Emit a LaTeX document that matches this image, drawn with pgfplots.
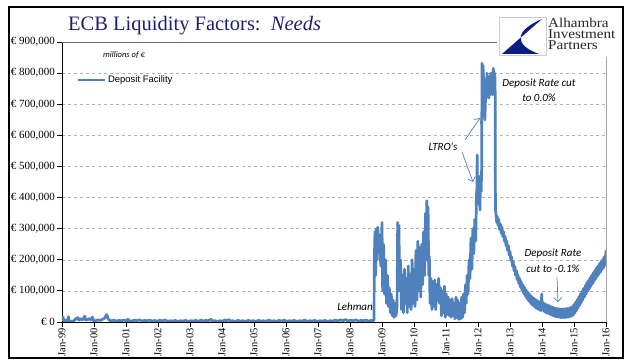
\documentclass[border=0pt]{standalone}
\usepackage{pgfplots}
\pgfplotsset{compat=1.18}
\usepackage{fontspec}
\setmainfont{Liberation Serif}
\newfontfamily\arialfont{Liberation Sans}
\newfontfamily\calfont{Carlito}
\newfontfamily\logofont[FakeStretch=1.12]{Liberation Serif}
\usetikzlibrary{arrows.meta}
\definecolor{series}{RGB}{79,129,189}
\definecolor{titlenavy}{RGB}{32,32,112}
\definecolor{logonavy}{RGB}{10,30,130}
\begin{document}
\begin{tikzpicture}[x=1pt,y=1pt]
\useasboundingbox (0,0) rectangle (641,361);
\fill[white] (0,0) rectangle (641,361);
\begin{axis}[
  at={(62pt,39pt)}, anchor=south west,
  width=544pt, height=280pt, scale only axis,
  xmin=1999, xmax=2016, ymin=0, ymax=900000,
  axis x line*=bottom, axis y line*=left,
  axis line style={black, line width=0.9pt},
  tick align=outside, major tick length=5pt,
  tick style={black, line width=0.8pt},
  xtick={1999,2000,...,2016},
  xticklabels={Jan-99,Jan-00,Jan-01,Jan-02,Jan-03,Jan-04,Jan-05,Jan-06,Jan-07,Jan-08,Jan-09,Jan-10,Jan-11,Jan-12,Jan-13,Jan-14,Jan-15,Jan-16},
  xticklabel style={rotate=90, anchor=east, font=\fontsize{10.5}{10.5}\selectfont, inner sep=1pt},
  ytick={0,100000,...,900000},
  yticklabels={{€ 0},{€ 100,000},{€ 200,000},{€ 300,000},{€ 400,000},{€ 500,000},{€ 600,000},{€ 700,000},{€ 800,000},{€ 900,000}},
  yticklabel style={font=\fontsize{11}{11}\selectfont, inner sep=2pt},
  ymajorgrids, grid style={gray!60, dashed, line width=0.5pt},
  scaled y ticks=false,
  clip=true,
  legend style={at={(0.026,0.864)}, anchor=west, draw=none, fill=none,
    font=\arialfont\fontsize{9.5}{10}\selectfont, inner sep=0pt},
  legend cell align=left,
  legend image code/.code={\draw[#1] (0pt,0pt) -- (27pt,0pt);},
]
\addplot[series, line width=2.7pt, line join=round] table[row sep=\\] {
x y\\
1999.00 4000\\ 1999.03 16000\\ 1999.06 3000\\ 1999.12 5000\\ 1999.17 4000\\ 1999.20 17000\\ 1999.23 3000\\ 1999.30 2000\\
1999.38 4000\\ 1999.44 12000\\ 1999.47 9000\\ 1999.50 14000\\ 1999.54 6000\\ 1999.60 11000\\ 1999.64 7000\\ 1999.68 12000\\
1999.71 19000\\ 1999.74 6000\\ 1999.80 8000\\ 1999.86 11000\\ 1999.90 6000\\ 1999.95 16000\\ 1999.99 3000\\ 2000.05 4000\\
2000.12 7000\\ 2000.20 5000\\ 2000.27 9000\\ 2000.33 12000\\ 2000.37 20000\\ 2000.40 24000\\ 2000.43 13000\\ 2000.48 5000\\
2000.55 4000\\ 2000.62 6000\\ 2000.70 3000\\ 2000.78 5000\\ 2000.86 4000\\ 2000.94 6000\\ 2001.02 3000\\ 2001.06 9000\\
2001.10 4000\\ 2001.18 3000\\ 2001.26 6000\\ 2001.34 4000\\ 2001.42 7000\\ 2001.50 3000\\ 2001.58 5000\\ 2001.66 4000\\
2001.74 6000\\ 2001.82 3000\\ 2001.90 5000\\ 2001.98 2000\\ 2002.06 6000\\ 2002.14 3000\\ 2002.22 7000\\ 2002.30 2000\\
2002.38 4000\\ 2002.46 3000\\ 2002.54 5000\\ 2002.62 2000\\ 2002.70 4000\\ 2002.78 3000\\ 2002.86 5000\\ 2002.94 2000\\
2003.02 4000\\ 2003.10 3000\\ 2003.18 5000\\ 2003.26 2000\\ 2003.34 6000\\ 2003.42 3000\\ 2003.50 5000\\ 2003.58 4000\\
2003.66 9000\\ 2003.70 3000\\ 2003.78 4000\\ 2003.86 2000\\ 2003.94 4000\\ 2004.02 3000\\ 2004.10 7000\\ 2004.14 3000\\
2004.22 8000\\ 2004.26 3000\\ 2004.34 4000\\ 2004.42 2000\\ 2004.50 5000\\ 2004.58 3000\\ 2004.66 4000\\ 2004.74 2000\\
2004.82 5000\\ 2004.90 3000\\ 2004.98 4000\\ 2005.06 2000\\ 2005.14 5000\\ 2005.22 3000\\ 2005.30 4000\\ 2005.38 2000\\
2005.46 6000\\ 2005.54 3000\\ 2005.62 4000\\ 2005.70 2000\\ 2005.78 5000\\ 2005.86 3000\\ 2005.94 6000\\ 2006.02 2000\\
2006.10 4000\\ 2006.18 3000\\ 2006.26 5000\\ 2006.34 2000\\ 2006.42 4000\\ 2006.50 3000\\ 2006.58 6000\\ 2006.66 2000\\
2006.74 4000\\ 2006.82 3000\\ 2006.90 5000\\ 2006.98 2000\\ 2007.06 4000\\ 2007.14 3000\\ 2007.22 5000\\ 2007.30 2000\\
2007.38 4000\\ 2007.46 3000\\ 2007.54 6000\\ 2007.62 3000\\ 2007.70 7000\\ 2007.78 4000\\ 2007.86 8000\\ 2007.94 3000\\
2008.02 6000\\ 2008.10 4000\\ 2008.18 7000\\ 2008.26 3000\\ 2008.34 5000\\ 2008.42 4000\\ 2008.50 6000\\ 2008.58 3000\\
2008.66 5000\\ 2008.72 4000\\ 2008.75 6000\\
2008.76 200000\\ 2008.78 290000\\ 2008.80 150000\\ 2008.82 300000\\ 2008.85 200000\\ 2008.87 305000\\ 2008.90 230000\\ 2008.93 280000\\
2008.96 180000\\ 2009.00 320000\\ 2009.02 100000\\ 2009.05 250000\\ 2009.08 90000\\ 2009.11 200000\\ 2009.14 60000\\ 2009.17 150000\\
2009.20 50000\\ 2009.23 110000\\ 2009.26 30000\\ 2009.29 90000\\ 2009.32 20000\\ 2009.35 70000\\ 2009.38 15000\\ 2009.41 60000\\
2009.44 20000\\ 2009.47 50000\\ 2009.49 320000\\ 2009.51 260000\\ 2009.53 310000\\ 2009.55 100000\\ 2009.58 200000\\ 2009.61 40000\\
2009.64 150000\\ 2009.67 30000\\ 2009.70 170000\\ 2009.73 60000\\ 2009.76 140000\\ 2009.79 30000\\ 2009.82 180000\\ 2009.85 50000\\
2009.88 150000\\ 2009.91 40000\\ 2009.94 200000\\ 2009.97 60000\\ 2010.00 170000\\ 2010.03 50000\\ 2010.06 230000\\ 2010.09 70000\\
2010.12 260000\\ 2010.15 100000\\ 2010.18 240000\\ 2010.21 80000\\ 2010.24 250000\\ 2010.27 120000\\ 2010.30 290000\\ 2010.33 150000\\
2010.36 350000\\ 2010.38 200000\\ 2010.40 390000\\ 2010.42 300000\\ 2010.44 370000\\ 2010.46 150000\\ 2010.48 210000\\ 2010.50 60000\\
2010.53 140000\\ 2010.56 40000\\ 2010.59 130000\\ 2010.62 50000\\ 2010.65 135000\\ 2010.68 40000\\ 2010.71 120000\\ 2010.74 70000\\
2010.77 140000\\ 2010.80 60000\\ 2010.83 110000\\ 2010.86 20000\\ 2010.89 100000\\ 2010.92 30000\\ 2010.95 115000\\ 2010.98 15000\\
2011.01 90000\\ 2011.04 25000\\ 2011.07 80000\\ 2011.10 20000\\ 2011.13 70000\\ 2011.16 15000\\ 2011.19 75000\\ 2011.22 20000\\
2011.25 60000\\ 2011.28 10000\\ 2011.31 80000\\ 2011.34 15000\\ 2011.37 70000\\ 2011.40 8000\\ 2011.43 60000\\ 2011.46 10000\\
2011.49 80000\\ 2011.52 15000\\ 2011.55 90000\\ 2011.58 30000\\ 2011.61 120000\\ 2011.63 60000\\ 2011.66 150000\\ 2011.69 90000\\
2011.72 200000\\ 2011.75 140000\\ 2011.78 270000\\ 2011.81 170000\\ 2011.84 300000\\ 2011.87 220000\\ 2011.90 330000\\ 2011.93 260000\\
2011.95 400000\\ 2011.965 430000\\ 2011.975 537000\\ 2011.985 400000\\ 2012.00 470000\\ 2012.02 380000\\ 2012.04 450000\\ 2012.06 360000\\
2012.08 470000\\ 2012.10 420000\\ 2012.115 500000\\ 2012.125 832000\\ 2012.14 770000\\ 2012.155 825000\\ 2012.17 790000\\ 2012.185 720000\\
2012.20 760000\\ 2012.215 650000\\ 2012.23 700000\\ 2012.245 780000\\ 2012.26 720000\\ 2012.28 800000\\ 2012.30 740000\\ 2012.32 790000\\
2012.34 720000\\ 2012.36 770000\\ 2012.38 730000\\ 2012.40 800000\\ 2012.42 750000\\ 2012.44 790000\\ 2012.46 730000\\ 2012.48 815000\\
2012.50 760000\\ 2012.52 800000\\ 2012.535 780000\\ 2012.545 360000\\
2012.56 350000\\ 2012.585 320000\\ 2012.60 340000\\ 2012.625 310000\\ 2012.65 330000\\ 2012.675 298000\\ 2012.70 315000\\ 2012.725 285000\\
2012.75 305000\\ 2012.775 275000\\ 2012.80 290000\\ 2012.825 260000\\ 2012.85 275000\\ 2012.875 245000\\ 2012.90 260000\\ 2012.925 230000\\
2012.95 245000\\ 2012.975 215000\\ 2013.00 227000\\ 2013.025 198000\\ 2013.05 210000\\ 2013.075 180000\\ 2013.10 195000\\ 2013.125 165000\\
2013.15 180000\\ 2013.175 150000\\ 2013.20 165000\\ 2013.225 136000\\ 2013.25 152000\\ 2013.275 124000\\ 2013.30 140000\\ 2013.325 112000\\
2013.35 130000\\ 2013.375 101000\\ 2013.40 120000\\ 2013.425 92000\\ 2013.45 112000\\ 2013.475 84000\\ 2013.50 104000\\ 2013.525 76000\\
2013.55 97000\\ 2013.575 69000\\ 2013.60 91000\\ 2013.625 63000\\ 2013.65 85000\\ 2013.675 57000\\ 2013.70 80000\\ 2013.725 52000\\
2013.75 76000\\ 2013.775 48000\\ 2013.80 72000\\ 2013.825 44000\\ 2013.85 69000\\ 2013.875 41000\\ 2013.90 66000\\ 2013.925 38000\\
2013.95 64000\\ 2013.975 36000\\ 2013.99 90000\\ 2014.01 40000\\ 2014.05 61000\\ 2014.075 33000\\ 2014.10 58000\\ 2014.125 30000\\
2014.15 56000\\ 2014.175 28000\\ 2014.20 54000\\ 2014.225 26000\\ 2014.25 51000\\ 2014.275 23000\\ 2014.30 49000\\ 2014.325 21000\\
2014.35 47000\\ 2014.375 19000\\ 2014.40 45000\\ 2014.425 17000\\ 2014.45 44000\\ 2014.475 16000\\ 2014.50 43000\\ 2014.525 15000\\
2014.55 42000\\ 2014.575 14000\\ 2014.60 42000\\ 2014.625 14000\\ 2014.65 42000\\ 2014.675 14000\\ 2014.70 42000\\ 2014.725 14000\\
2014.75 43000\\ 2014.775 15000\\ 2014.80 44000\\ 2014.825 16000\\ 2014.85 45000\\ 2014.875 17000\\ 2014.90 47000\\ 2014.925 19000\\
2014.95 50000\\ 2014.975 22000\\ 2015.00 56000\\ 2015.025 28000\\ 2015.05 64000\\ 2015.075 36000\\ 2015.10 72000\\ 2015.125 44000\\
2015.15 81000\\ 2015.175 53000\\ 2015.20 90000\\ 2015.225 62000\\ 2015.25 99000\\ 2015.275 71000\\ 2015.30 108000\\ 2015.325 80000\\
2015.35 117000\\ 2015.375 89000\\ 2015.40 126000\\ 2015.425 98000\\ 2015.45 134000\\ 2015.475 106000\\ 2015.50 142000\\ 2015.525 114000\\
2015.55 150000\\ 2015.575 122000\\ 2015.60 158000\\ 2015.625 130000\\ 2015.65 166000\\ 2015.675 138000\\ 2015.70 174000\\ 2015.725 146000\\
2015.75 181000\\ 2015.775 153000\\ 2015.80 188000\\ 2015.825 160000\\ 2015.85 195000\\ 2015.875 167000\\ 2015.90 202000\\ 2015.925 174000\\
2015.95 210000\\ 2015.975 182000\\ 2016.00 230000\\
};
\addlegendentry{Deposit Facility}
\end{axis}
% partial frame lines
\draw[gray!80!black, line width=0.8pt] (62,319) -- (497,319);
\fill[white] (498,304) rectangle (620,350);
\draw[gray!70, line width=0.8pt] (606,39) -- (606,304);
% outer frame
\draw[black, line width=1.1pt] (9,3) rectangle (623,354);
% title
\node[anchor=base west, inner sep=0pt, text=titlenavy, font=\fontsize{20.5}{22}\selectfont] at (68,330) {ECB Liquidity Factors:\ \ \textit{Needs}};
% units
\node[anchor=west, inner sep=0pt, font=\calfont\itshape\fontsize{8.5}{9}\selectfont] at (103,306) {millions of €};
% logo
\draw[gray!40, line width=0.6pt, fill=white] (499,306) rectangle (546,344);
\fill[logonavy] (542,342) -- (502,307) -- (539,307) .. controls (514,316) and (514,330) .. (542,342) -- cycle;
\node[anchor=base west, inner sep=0pt, text=black!85, font=\logofont\fontsize{13.5}{13.5}\selectfont] at (548,333) {Alhambra};
\node[anchor=base west, inner sep=0pt, text=black!85, font=\logofont\fontsize{13.5}{13.5}\selectfont] at (548,322) {Investment};
\node[anchor=base west, inner sep=0pt, text=black!85, font=\logofont\fontsize{13.5}{13.5}\selectfont] at (548,311) {Partners};
% annotations
\node[anchor=east, inner sep=0pt, font=\calfont\itshape\fontsize{11}{12}\selectfont] at (373,54) {Lehman};
\node[inner sep=0pt, font=\calfont\itshape\fontsize{11}{12}\selectfont] at (443,214) {LTRO's};
\draw[series, line width=0.7pt, -{Straight Barb[length=4pt]}] (465,221) -- (480,243);
\draw[series, line width=0.7pt, -{Straight Barb[length=4pt]}] (462,209) -- (473,179);
\node[inner sep=0pt, align=center, font=\calfont\itshape\fontsize{11}{15}\selectfont] at (539,270.5) {Deposit Rate cut\\to 0.0\%};
\node[inner sep=0pt, align=center, font=\calfont\itshape\fontsize{11}{16}\selectfont] at (553,100) {Deposit Rate\\cut to -0.1\%};
\draw[series, line width=0.7pt, -{Straight Barb[length=4pt]}] (557,84) -- (558,59);
\end{tikzpicture}
\end{document}
